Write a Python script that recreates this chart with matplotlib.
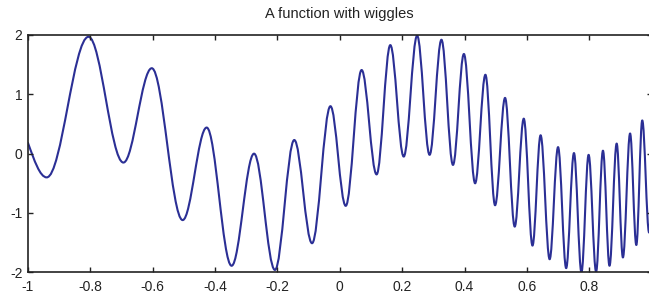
import matplotlib
matplotlib.use("Agg")
import matplotlib.pyplot as plt
from matplotlib.path import Path
from matplotlib.patches import PathPatch

plt.rcParams['font.family'] = ['Liberation Sans', 'DejaVu Sans']
plt.rcParams['axes.unicode_minus'] = False

# turning points of the curve (first and last are the ends)
x_pts = [-1.0, -0.940, -0.806, -0.694, -0.603, -0.504, -0.427, -0.347, -0.275, -0.208,
         -0.146, -0.089, -0.030, 0.019, 0.070, 0.118, 0.162, 0.205, 0.248, 0.288,
         0.326, 0.363, 0.398, 0.434, 0.467, 0.498, 0.530, 0.561, 0.590, 0.618,
         0.644, 0.673, 0.700, 0.726, 0.751, 0.775, 0.798, 0.822, 0.844, 0.865,
         0.888, 0.908, 0.931, 0.951, 0.970, 0.992, 1.0]
y_pts = [0.18, -0.40, 1.97, -0.15, 1.44, -1.12, 0.44, -1.89, 0.0, -1.96,
         0.23, -1.51, 0.80, -0.88, 1.41, -0.35, 1.83, -0.05, 1.99, -0.02,
         1.92, -0.19, 1.68, -0.50, 1.33, -0.87, 0.94, -1.23, 0.59, -1.55,
         0.31, -1.78, 0.11, -1.93, 0.01, -2.0, -0.02, -1.99, 0.05, -1.89,
         0.17, -1.75, 0.34, -1.54, 0.56, -1.33, -0.54]

x_ticks = [-1, -0.8, -0.6, -0.4, -0.2, 0, 0.2, 0.4, 0.6, 0.8, 1]
x_labels = ['-1', '-0.8', '-0.6', '-0.4', '-0.2', '0', '0.2', '0.4', '0.6', '0.8', '1']
y_ticks = [-2, -1, 0, 1, 2]
y_labels = ['-2', '-1', '0', '1', '2']
title = 'A function with wiggles'

line_color = '#2b2f95'


def wiggle_path(xs, ys, k=0.36):
    # smooth cubic segments with flat tangents at the turning points
    verts = [(xs[0], ys[0])]
    codes = [Path.MOVETO]
    last = len(xs) - 1
    for i in range(last):
        x0, y0, x1, y1 = xs[i], ys[i], xs[i + 1], ys[i + 1]
        dx, dy = x1 - x0, y1 - y0
        if i == 0:
            c1 = (x0 + dx / 3, y0 + 0.5 * dy)
        else:
            c1 = (x0 + k * dx, y0)
        if i + 1 == last:
            c2 = (x1 - dx / 3, y1 - 0.5 * dy)
        else:
            c2 = (x1 - k * dx, y1)
        verts += [c1, c2, (x1, y1)]
        codes += [Path.CURVE4] * 3
    return Path(verts, codes)


fig = plt.figure(figsize=(6.49, 2.93), dpi=100)
ax = fig.add_axes([28 / 649, 20.7 / 293, 623.6 / 649, 237.3 / 293])

patch = PathPatch(wiggle_path(x_pts, y_pts), facecolor='none', edgecolor=line_color,
                  linewidth=1.5, capstyle='round', joinstyle='round')
ax.add_patch(patch)

ax.set_xlim(-1, 1)
ax.set_ylim(-2, 2)
ax.set_xticks(x_ticks)
ax.set_xticklabels(x_labels)
ax.set_yticks(y_ticks)
ax.set_yticklabels(y_labels)
ax.tick_params(direction='in', length=3.6, width=1, top=True, right=True,
               labelsize=10, colors='#222222')
ax.tick_params(axis='x', pad=5.5)
ax.tick_params(axis='y', pad=4)
for s in ax.spines.values():
    s.set_linewidth(1.2)
    s.set_color('#222222')
ax.set_title(title, fontsize=10.5, pad=12, color='#222222')

fig.savefig('out.png', dpi=100)
